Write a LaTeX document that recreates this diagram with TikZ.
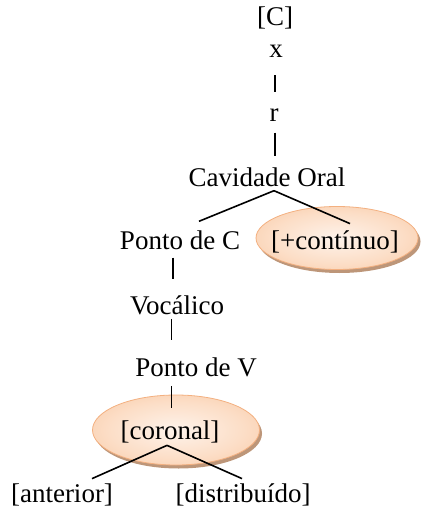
\documentclass[tikz,border=0pt]{standalone}
\usepackage{fontspec}
\setmainfont{Liberation Serif}
\usepackage{tikz}
\usetikzlibrary{shapes.geometric,shadows,calc}

\definecolor{peachin}{RGB}{254,243,235}
\definecolor{peachmid}{RGB}{252,222,199}
\definecolor{peachout}{RGB}{246,182,134}
\definecolor{peachrim}{RGB}{243,176,128}
\definecolor{rimshadow}{RGB}{172,124,88}
\pgfdeclareradialshading{peachglow}{\pgfpoint{0bp}{0bp}}{color(0bp)=(peachin); color(20bp)=(peachmid); color(50bp)=(peachout)}

\begin{document}
\begin{tikzpicture}[x=1pt,y=-1pt,
    lbl/.style={inner sep=0pt, font=\fontsize{27}{32}\selectfont},
    oval/.style={ellipse, draw=peachrim, line width=0.8pt, shading=peachglow,
        drop shadow={shadow xshift=2.5pt, shadow yshift=-3.5pt, fill=rimshadow, opacity=0.8}},
    link/.style={line width=1.6pt}]
        \useasboundingbox (0,0) rectangle (420,510);

        % ovals behind the features
        \node[oval, minimum width=162pt, minimum height=63pt] (contov) at (337,238) {};
        \node[oval, minimum width=167pt, minimum height=70pt] (corov) at (176,430) {};

        \node[lbl] (C) at (275,18) {[C]};
        \node[lbl] (x) at (276,51) {x};
        \node[lbl] (r) at (274,115) {r};
        \node[lbl] (cav) at (267,177) {Cavidade Oral};
        \node[lbl] (ptc) at (180,240) {Ponto de C};
        \node[lbl] (cont) at (335,242) {[+contínuo]};
        \node[lbl] (voc) at (177,305) {Vocálico};
        \node[lbl] (ptv) at (196,367) {Ponto de V};
        \node[lbl] (cor) at (170,432) {[coronal]};
        \node[lbl] (ant) at (62,495) {[anterior]};
        \node[lbl] (dist) at (243,495) {[distribuído]};

        \coordinate (cavfork) at ($(cav.south)+(7,4)$);
        \coordinate (corfork) at ($(cor.south)+(-3,2)$);

        \draw[link] ($(x.south)+(-1,18)$) -- ($(r.north)+(1,-16)$);
        \draw[link] ($(r.south)+(1,11)$) -- ($(cav.north)+(8,-11)$);
        \draw[link] (cavfork) -- ($(ptc.north)+(19,-9)$);
        \draw[link] (cavfork) -- ($(cont.north)+(15,-7)$);
        \draw[link] ($(ptc.south)+(-7,8)$) -- ($(voc.north)+(-4,-16)$);
        \draw[link] ($(voc.south)+(-5.5,4)$) -- ($(ptv.north)+(-24.5,-17)$);
        \draw[link] ($(ptv.south)+(-24.5,9)$) -- ($(cor.north)+(1.5,-13)$);
        \draw[link] (corfork) -- ($(ant.north)+(30,-5)$);
        \draw[link] (corfork) -- ($(dist.north)+(-1,-5)$);
    \end{tikzpicture}
\end{document}
